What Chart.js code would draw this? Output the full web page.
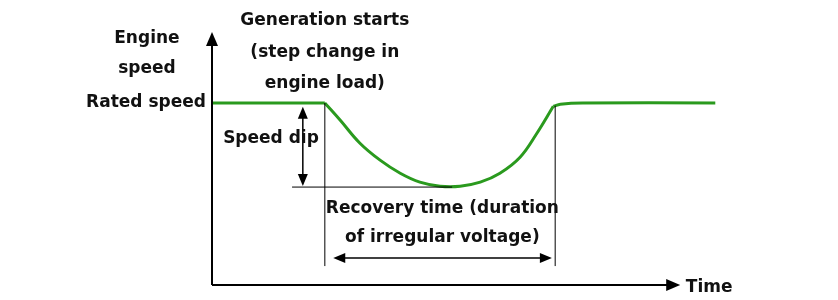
<!DOCTYPE html>
<html>
<head>
<meta charset="utf-8">
<script src="https://cdn.jsdelivr.net/npm/chart.js@4.4.1/dist/chart.umd.min.js"></script>
<style>
  html, body { margin: 0; padding: 0; background: #fff; }
  #wrap { width: 838px; height: 300px; position: relative; }
</style>
</head>
<body>
<div id="wrap"><canvas id="chartVelocidade"></canvas></div>
<script>
// tempo (unidades arbitrárias) e rotação do motor (% da nominal)
const tempo    = [0, 24.1, 27.4, 31.6, 35.9, 40.2, 44.4, 48.7, 53.0, 57.3, 61.5, 65.8, 69.4, 72.9, 74.4, 79.1, 107.5];
const rotacao  = [100, 100, 90.5, 77.9, 68.6, 61.4, 56.5, 54.3, 54.3, 56.5, 61.4, 70.2, 83.4, 98.2, 99.3, 100, 100];
// índices onde a curva começa e termina (cantos do desenho)
const iQueda = 1;
const iVolta = 13;

// marcas do desenho
const tInicio = 24.1;       // início da geração
const tFim = 73.3;          // fim da recuperação
const rotMin = 53.8;        // queda de rotação
const baseMarcas = 10.4;    // pé das linhas verticais
const tSetaQueda = 19.4;
const rotSetaRecup = 14.8;
const tEixoFim = 100;
const rotEixoFim = 139;

const fonte = 'bold 17px "DejaVu Sans", Verdana, sans-serif';
// textos: [texto, t, rotação, alinhamento]
const textos = [
  ['Engine', -13.9, 135.4, 'center'],
  ['speed', -13.9, 118.9, 'center'],
  ['Rated speed', -1.3, 100, 'right'],
  ['Generation starts', 24.1, 145.5, 'center'],
  ['(step change in', 24.1, 127.9, 'center'],
  ['engine load)', 24.1, 110.9, 'center'],
  ['Speed dip', 12.6, 80.6, 'center'],
  ['Recovery time (duration', 49.2, 42.2, 'center'],
  ['of irregular voltage)', 49.2, 25.8, 'center'],
  ['Time', 101.2, -1.3, 'left']
];

function pontos(ini, fim) {
  const out = [];
  for (let i = ini; i <= fim; i++) out.push({ x: tempo[i], y: rotacao[i] });
  return out;
}

function seta(ctx, x, y, dir, tam, larg) {
  ctx.beginPath();
  if (dir === 'up')    { ctx.moveTo(x, y); ctx.lineTo(x - larg, y + tam); ctx.lineTo(x + larg, y + tam); }
  if (dir === 'down')  { ctx.moveTo(x, y); ctx.lineTo(x - larg, y - tam); ctx.lineTo(x + larg, y - tam); }
  if (dir === 'left')  { ctx.moveTo(x, y); ctx.lineTo(x + tam, y - larg); ctx.lineTo(x + tam, y + larg); }
  if (dir === 'right') { ctx.moveTo(x, y); ctx.lineTo(x - tam, y - larg); ctx.lineTo(x - tam, y + larg); }
  ctx.closePath();
  ctx.fill();
}

const desenhoPlugin = {
  id: 'desenho',
  afterDatasetsDraw(chart) {
    const ctx = chart.ctx;
    const X = v => chart.scales.x.getPixelForValue(v);
    const Y = v => chart.scales.y.getPixelForValue(v);
    ctx.save();
    ctx.strokeStyle = '#000';
    ctx.fillStyle = '#000';

    // eixos
    ctx.lineWidth = 2;
    ctx.beginPath();
    ctx.moveTo(X(0), Y(0)); ctx.lineTo(X(0), Y(rotEixoFim) + 10);
    ctx.moveTo(X(0), Y(0)); ctx.lineTo(X(tEixoFim) - 10, Y(0));
    ctx.stroke();
    seta(ctx, X(0), Y(rotEixoFim), 'up', 14, 6);
    seta(ctx, X(tEixoFim), Y(0), 'right', 14, 6);

    // linhas de referência
    ctx.lineWidth = 1;
    ctx.beginPath();
    ctx.moveTo(X(tInicio), Y(100)); ctx.lineTo(X(tInicio), Y(baseMarcas));
    ctx.moveTo(X(tFim), Y(98.5)); ctx.lineTo(X(tFim), Y(baseMarcas));
    ctx.moveTo(X(17.1), Y(rotMin)); ctx.lineTo(X(51.3), Y(rotMin));
    ctx.stroke();

    // seta dupla da queda de rotação
    ctx.lineWidth = 1.5;
    ctx.beginPath();
    ctx.moveTo(X(tSetaQueda), Y(97) + 8); ctx.lineTo(X(tSetaQueda), Y(rotMin) - 8);
    ctx.stroke();
    seta(ctx, X(tSetaQueda), Y(98), 'up', 12, 5);
    seta(ctx, X(tSetaQueda), Y(rotMin) - 1, 'down', 12, 5);

    // seta dupla do tempo de recuperação
    ctx.beginPath();
    ctx.moveTo(X(25.9) + 8, Y(rotSetaRecup)); ctx.lineTo(X(72.6) - 8, Y(rotSetaRecup));
    ctx.stroke();
    seta(ctx, X(25.9), Y(rotSetaRecup), 'left', 12, 5);
    seta(ctx, X(72.6), Y(rotSetaRecup), 'right', 12, 5);

    // textos
    ctx.font = fonte;
    ctx.fillStyle = '#111';
    ctx.textBaseline = 'middle';
    textos.forEach(([txt, t, r, al]) => {
      ctx.textAlign = al;
      ctx.fillText(txt, X(t), Y(r));
    });
    ctx.restore();
  }
};

const estiloLinha = {
  borderColor: '#2a9a1e',
  borderWidth: 3,
  pointRadius: 0,
  fill: false,
  clip: false
};

new Chart(document.getElementById('chartVelocidade'), {
  type: 'line',
  data: {
    datasets: [
      { ...estiloLinha, data: pontos(0, iQueda), tension: 0 },
      { ...estiloLinha, data: pontos(iQueda, iVolta), tension: 0.4 },
      { ...estiloLinha, data: pontos(iVolta, tempo.length - 1), tension: 0.3 }
    ]
  },
  options: {
    responsive: true,
    maintainAspectRatio: false,
    animation: false,
    layout: { padding: { left: 212, right: 111, top: 32, bottom: 15 } },
    plugins: { legend: { display: false }, tooltip: { enabled: false } },
    scales: {
      x: { type: 'linear', min: 0, max: 110, display: false },
      y: { type: 'linear', min: 0, max: rotEixoFim, display: false }
    }
  },
  plugins: [desenhoPlugin]
});
</script>
</body>
</html>
